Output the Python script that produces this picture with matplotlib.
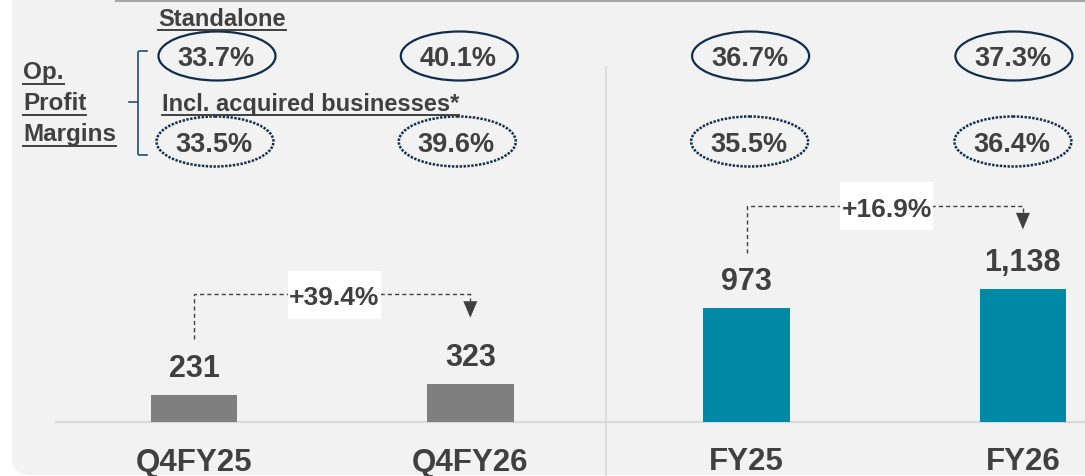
import matplotlib
matplotlib.use('Agg')
import matplotlib.pyplot as plt
import matplotlib.transforms as mtransforms
from matplotlib.patches import Ellipse, Rectangle, FancyBboxPatch, Polygon
from matplotlib.lines import Line2D

# ---------------- data ----------------
categories = ['Q4FY25', 'Q4FY26', 'FY25', 'FY26']
op_profit = [231, 323, 973, 1138]
value_labels = ['231', '323', '973', '1,138']
standalone_margin = ['33.7%', '40.1%', '36.7%', '37.3%']
incl_acquired_margin = ['33.5%', '39.6%', '35.5%', '36.4%']
growth_pairs = [(0, 1), (2, 3)]
growth_labels = ['+39.4%', '+16.9%']
bar_colors = ['#7f7f7f', '#7f7f7f', '#0089a4', '#0089a4']

# ---------------- style / layout ----------------
W, H = 1085, 476
FONT = ['Liberation Sans', 'DejaVu Sans']
PCT_SIZE = 19.5
TXT = '#404040'
NAVY = '#0f2d4c'
BRACE = '#1f4e79'
PANEL = '#f2f2f2'

fig = plt.figure(figsize=(W / 100, H / 100), dpi=100)
fig.patch.set_facecolor('white')
ax = fig.add_axes([0, 0, 1, 1])
ax.set_axis_off()

x = list(range(len(categories)))
ax.set_xlim(-0.7021, 3.2247)
ax.set_ylim(-461.5, 3606.8)

# pixel transform: (x from left, y from top)
PX = mtransforms.Affine2D().scale(1 / W, -1 / H).translate(0, 1) + fig.transFigure


def px_x(xd):
    return ax.transData.transform((xd, 0))[0]


def px_y(v):
    return H - ax.transData.transform((0, v))[1]


# background panel with rounded bottom-left corner
panel = FancyBboxPatch((12, -80), W + 120, 475 + 80,
                       boxstyle='round,pad=0,rounding_size=18',
                       transform=PX, fc=PANEL, ec='none', zorder=-5)
fig.add_artist(panel)
fig.add_artist(Line2D([116, W], [1, 1], transform=PX, color='#a6a6a6', lw=1.5, zorder=1))

# baseline and divider
ax.axhline(0, xmin=56 / W, xmax=1, color='#d9d9d9', lw=1.5, zorder=2)
div_x = px_x(1.5) - 2
fig.add_artist(Line2D([div_x, div_x], [67, H], transform=PX, color='#d9d9d9', lw=1.2, zorder=1))

# bars
ax.bar(x, op_profit, width=0.313, color=bar_colors, zorder=3)

# value labels
for xi, v, lab in zip(x, op_profit, value_labels):
    ax.annotate(lab, (xi, v), xytext=(0, 13), textcoords='offset points',
                ha='center', va='baseline', fontsize=22, fontweight='bold',
                color=TXT, family=FONT, zorder=4)

# category labels
for xi, c in zip(x, categories):
    fig.text(px_x(xi), 470.5, c, transform=PX, ha='center', va='baseline',
             fontsize=22.5, fontweight='bold', color=TXT, family=FONT)

# margin ellipses
solid_off = [23, -11, 4, -9]
dotted_off = [21, -13, 3, -10]
for xi, lab, off in zip(x, standalone_margin, solid_off):
    cx = px_x(xi) + off
    fig.add_artist(Ellipse((cx, 56), 117, 49, transform=PX, fc='none',
                           ec=NAVY, lw=1.6, zorder=2))
    fig.text(cx - 1, 66.5, lab, transform=PX, ha='center', va='baseline', fontsize=PCT_SIZE,
             fontweight='bold', color=TXT, family=FONT)
for xi, lab, off in zip(x, incl_acquired_margin, dotted_off):
    cx = px_x(xi) + off
    fig.add_artist(Ellipse((cx, 141.5), 117, 50, transform=PX, fc='none',
                           ec=NAVY, lw=1.8, linestyle=(0, (0.95, 0.6)),
                           capstyle='butt', zorder=2))
    fig.text(cx - 1, 151.5, lab, transform=PX, ha='center', va='baseline', fontsize=PCT_SIZE,
             fontweight='bold', color=TXT, family=FONT)

# header texts with underline
renderer = fig.canvas.get_renderer()


def underlined(px, py, s, size, gap=3.5):
    t = fig.text(px, py, s, transform=PX, ha='left', va='baseline', fontsize=size,
                 fontweight='bold', color=TXT, family=FONT)
    bb = t.get_window_extent(renderer)
    fig.add_artist(Line2D([bb.x0, bb.x1], [py + gap, py + gap], transform=PX,
                          color=TXT, lw=1.4, zorder=3))
    return t


underlined(158, 26.5, 'Standalone', 17)
underlined(162, 111, 'Incl. acquired businesses*', 17)
for s, by in zip(['Op.', 'Profit', 'Margins'], [79, 110, 141]):
    underlined(23, by, s, 17.5, gap=5)

# brace
fig.add_artist(Line2D([147, 139, 138, 138, 139, 147], [51, 51, 52, 154, 155, 155],
                      transform=PX, color=BRACE, lw=1.2, zorder=3))
fig.add_artist(Line2D([129, 138], [102, 102], transform=PX, color=BRACE, lw=1.2, zorder=3))

# growth annotations
lifts = [90, 83]
for (a, b), lab, lift in zip(growth_pairs, growth_labels, lifts):
    xa, xb = px_x(a), px_x(b)
    ya, yb = px_y(op_profit[a]), px_y(op_profit[b])
    ly = min(ya, yb) - lift
    fig.add_artist(Line2D([xa, xa, xb, xb], [ya - 55.5, ly, ly, ly + 7], transform=PX,
                          color='#404040', lw=1.0, linestyle=(0, (3.0, 2.2)), zorder=3))
    fig.add_artist(Polygon([[xb - 7, ly + 7], [xb + 7, ly + 7], [xb, ly + 23.5]],
                           closed=True, transform=PX, fc='#404040', ec='none', zorder=3))
    bx = (xa + xb) / 2 + 2
    fig.add_artist(Rectangle((bx - 46.5, ly - 23.5), 93, 48, transform=PX,
                             fc='white', ec='none', zorder=4))
    fig.text(bx, ly + 11, lab, transform=PX, ha='center', va='baseline', fontsize=19,
             fontweight='bold', color=TXT, family=FONT, zorder=5)

fig.savefig('out.png', dpi=100, facecolor='white')
